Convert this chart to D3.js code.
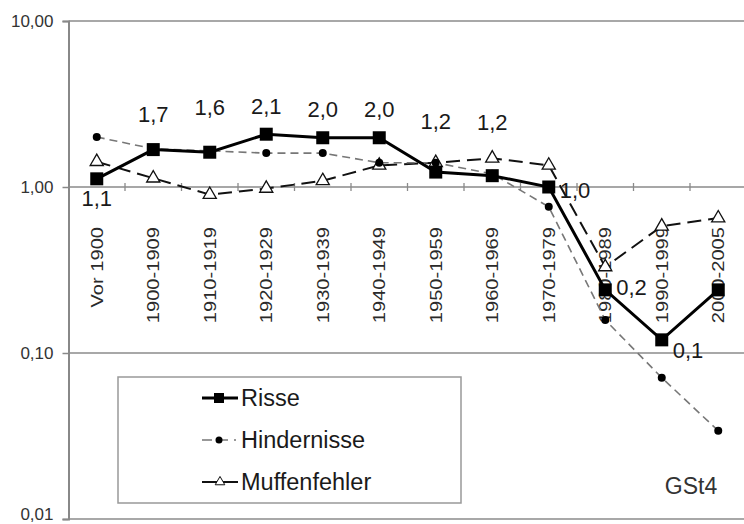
<!DOCTYPE html>
<html>
<head>
<meta charset="utf-8">
<script src="https://cdn.jsdelivr.net/npm/d3@7"></script>
<style>
  body { margin: 0; background: #fff; }
  svg { display: block; font-family: "Liberation Sans", Arial, sans-serif; }
</style>
</head>
<body>
<svg></svg>
<script>
const categories = ['Vor 1900', '1900-1909', '1910-1919', '1920-1929', '1930-1939', '1940-1949',
  '1950-1959', '1960-1969', '1970-1979', '1980-1989', '1990-1999', '2000-2005'];
const risse = [1.12, 1.68, 1.62, 2.08, 1.98, 1.98, 1.23, 1.17, 1.0, 0.24, 0.12, 0.24];
const hindernisse = [2.0, 1.7, 1.65, 1.6, 1.6, 1.4, 1.4, 1.2, 0.76, 0.158, 0.071, 0.034];
const muffenfehler = [1.42, 1.13, 0.9, 0.98, 1.09, 1.35, 1.4, 1.49, 1.35, 0.33, 0.58, 0.65];
const yTicks = [10, 1, 0.1, 0.01];
const yTickLabels = ['10,00', '1,00', '0,10', '0,01'];
const seriesNames = ['Risse', 'Hindernisse', 'Muffenfehler'];

// where the Risse value labels sit relative to the point
const labelPlace = ['below', 'above', 'above', 'above', 'above', 'above', 'above', 'above', 'right', 'right', 'right', null];
const labelShift = [19, -36, -45, -28, -29, -29, -51, -54, 3, -3, 10, 0];

const svg = d3.select('svg').attr('width', 744).attr('height', 524);
const margin = { top: 21, right: 0, bottom: 5, left: 68.5 };
const plotW = 678;
const height = 524 - margin.top - margin.bottom;

const g = svg.append('g')
  .attr('transform', `translate(${margin.left},${margin.top})`);

const x = d3.scaleBand().domain(categories).range([0, plotW]).padding(0);
const y = d3.scaleLog().domain([0.01, 10]).range([height, 0]);
const cx = d => x(d) + x.bandwidth() / 2;

// horizontal gridlines
g.selectAll('.grid')
  .data(yTicks)
  .enter().append('line')
  .attr('x1', 0).attr('x2', plotW)
  .attr('y1', d => y(d)).attr('y2', d => y(d))
  .attr('stroke', d => d === 1 ? '#8a8a8a' : '#a8a8a8')
  .attr('stroke-width', d => d === 1 ? 1.5 : 2);

// y axis
const yAxis = g.append('g')
  .call(d3.axisLeft(y).tickValues(yTicks).tickSize(6).tickFormat((d, i) => yTickLabels[i]));
yAxis.select('.domain').attr('stroke', '#888').attr('stroke-width', 2);
yAxis.selectAll('.tick line').attr('stroke', '#888').attr('stroke-width', 1.5);
yAxis.selectAll('.tick text')
  .attr('x', -15)
  .attr('font-size', 17)
  .attr('font-family', '"Liberation Sans", Arial, sans-serif')
  .attr('fill', '#333')
  .attr('dy', d => d === 0.01 ? '0.05em' : '0.32em');

// x axis crossing at 1,00
const xAxis = g.append('g')
  .attr('transform', `translate(0,${y(1)})`);
xAxis.selectAll('.xtick')
  .data(categories)
  .enter().append('line')
  .attr('x1', d => x(d) + x.bandwidth()).attr('x2', d => x(d) + x.bandwidth())
  .attr('y1', -4).attr('y2', 4)
  .attr('stroke', '#8a8a8a').attr('stroke-width', 1.3);
xAxis.selectAll('.xlabel')
  .data(categories)
  .enter().append('text')
  .attr('transform', d => `translate(${cx(d)},40) rotate(-90) scale(1.22,1)`)
  .attr('dy', '0.36em')
  .attr('text-anchor', 'end')
  .attr('font-size', 16.5)
  .attr('fill', '#2a2a2a')
  .text(d => d);

// series
const line = d3.line().x(d => cx(d.c)).y(d => y(d.v));
const pts = vals => vals.map((v, i) => ({ c: categories[i], v }));

g.append('path')
  .datum(pts(muffenfehler))
  .attr('fill', 'none').attr('stroke', '#111').attr('stroke-width', 2)
  .attr('stroke-dasharray', '14,7')
  .attr('d', line);
g.append('path')
  .datum(pts(hindernisse))
  .attr('fill', 'none').attr('stroke', '#777').attr('stroke-width', 1.6)
  .attr('stroke-dasharray', '8,5')
  .attr('d', line);
g.append('path')
  .datum(pts(risse))
  .attr('fill', 'none').attr('stroke', '#000').attr('stroke-width', 3)
  .attr('d', line);

const tri = d3.symbol().type(d3.symbolTriangle).size(75);
g.selectAll('.muff')
  .data(pts(muffenfehler))
  .enter().append('path')
  .attr('transform', d => `translate(${cx(d.c)},${y(d.v)})`)
  .attr('d', tri)
  .attr('fill', '#fff').attr('stroke', '#111').attr('stroke-width', 1.3);
g.selectAll('.hind')
  .data(pts(hindernisse))
  .enter().append('circle')
  .attr('cx', d => cx(d.c)).attr('cy', d => y(d.v)).attr('r', 4)
  .attr('fill', '#000');
g.selectAll('.risse')
  .data(pts(risse))
  .enter().append('rect')
  .attr('x', d => cx(d.c) - 6.5).attr('y', d => y(d.v) - 6.5)
  .attr('width', 13).attr('height', 13)
  .attr('fill', '#000');

// value labels for Risse
g.selectAll('.vlabel')
  .data(pts(risse).filter((d, i) => labelPlace[i]))
  .enter().append('text')
  .attr('x', d => {
    const i = categories.indexOf(d.c);
    return labelPlace[i] === 'right' ? cx(d.c) + 11 : cx(d.c);
  })
  .attr('y', d => y(d.v) + labelShift[categories.indexOf(d.c)])
  .attr('dy', '0.36em')
  .attr('text-anchor', d => labelPlace[categories.indexOf(d.c)] === 'right' ? 'start' : 'middle')
  .attr('font-size', 22)
  .attr('fill', '#1a1a1a')
  .text(d => d.v.toFixed(1).replace('.', ','));

// legend
const legend = svg.append('g').attr('transform', 'translate(118,377)');
legend.append('rect')
  .attr('width', 343).attr('height', 126)
  .attr('fill', '#fff').attr('stroke', '#999').attr('stroke-width', 1.5);
const rows = legend.selectAll('.row')
  .data(seriesNames)
  .enter().append('g')
  .attr('transform', (d, i) => `translate(0,${21 + i * 42})`);
rows.append('text')
  .attr('x', 123).attr('dy', '0.36em')
  .attr('font-size', 23.5).attr('fill', '#1a1a1a')
  .text(d => d);

const r0 = rows.filter(d => d === 'Risse');
r0.append('line').attr('x1', 84).attr('x2', 120).attr('stroke', '#000').attr('stroke-width', 3);
r0.append('rect').attr('x', 96).attr('y', -5).attr('width', 10).attr('height', 10).attr('fill', '#000');

const r1 = rows.filter(d => d === 'Hindernisse');
r1.append('line').attr('x1', 84).attr('x2', 118).attr('stroke', '#777').attr('stroke-width', 1.6)
  .attr('stroke-dasharray', '10,6');
r1.append('circle').attr('cx', 101).attr('r', 3.5).attr('fill', '#000');

const r2 = rows.filter(d => d === 'Muffenfehler');
r2.append('line').attr('x1', 84).attr('x2', 121).attr('stroke', '#111').attr('stroke-width', 2)
  .attr('stroke-dasharray', '15,6');
r2.append('path').attr('transform', 'translate(102,0)')
  .attr('d', d3.symbol().type(d3.symbolTriangle).size(40))
  .attr('fill', '#fff').attr('stroke', '#111').attr('stroke-width', 1);

svg.append('text')
  .attr('x', 691).attr('y', 486).attr('dy', '0.36em')
  .attr('text-anchor', 'middle')
  .attr('font-size', 23).attr('fill', '#333')
  .text('GSt4');
</script>
</body>
</html>
